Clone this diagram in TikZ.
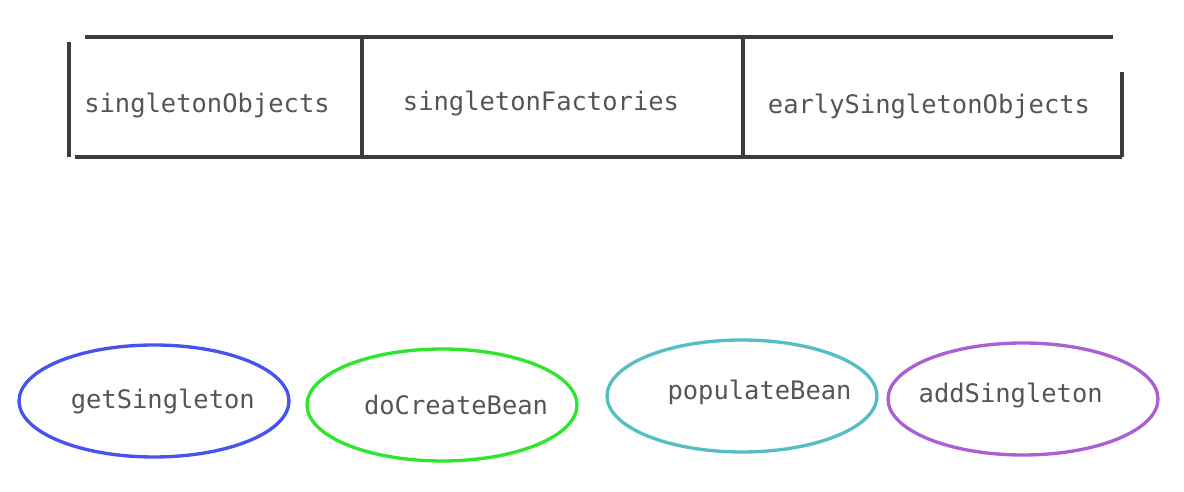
\documentclass[tikz,border=0pt]{standalone}
\usepackage{fontspec}
\setmonofont{DejaVu Sans Mono}
\usetikzlibrary{shapes.geometric}
\definecolor{inkgray}{RGB}{85,85,85}
\definecolor{linegray}{RGB}{60,60,60}
\definecolor{getblue}{RGB}{72,82,238}
\definecolor{creategreen}{RGB}{45,230,45}
\definecolor{popcyan}{RGB}{85,190,195}
\definecolor{addpurple}{RGB}{172,95,212}
\tikzset{
  cell/.style={inner sep=0pt, text=inkgray, font=\ttfamily\fontsize{14.5}{16}\selectfont},
  method/.style={ellipse, draw, line width=1.9pt, inner sep=0pt,
    minimum width=5.4cm, minimum height=2.24cm},
  edge/.style={draw=linegray, line width=2.1pt}
}
\begin{document}
\begin{tikzpicture}[x=0.02cm, y=-0.02cm]
\useasboundingbox (0,0) rectangle (1184,492);
% cache table
\draw[edge] (85,37) -- (1113,37);
\draw[edge] (75,157) -- (1122,157);
\draw[edge] (69,42) -- (69,157);
\draw[edge] (362,37) -- (362,157);
\draw[edge] (743,37) -- (743,157);
\draw[edge] (1122,72) -- (1122,157);
\node[cell] (objects) at (207,105) {singletonObjects};
\node[cell] (factories) at (541,103) {singletonFactories};
\node[cell] (early) at (929,106) {earlySingletonObjects};
% methods
\node[method, draw=getblue, label={[cell, xshift=5pt]center:getSingleton}] (get) at (154,401) {};
\node[method, draw=creategreen, label={[cell, xshift=8pt]center:doCreateBean}] (create) at (442,405) {};
\node[method, draw=popcyan, label={[cell, xshift=10pt, yshift=2pt]center:populateBean}] (populate) at (742,396) {};
\node[method, draw=addpurple, label={[cell, xshift=-7pt, yshift=2pt]center:addSingleton}] (add) at (1023,399) {};
\end{tikzpicture}
\end{document}
